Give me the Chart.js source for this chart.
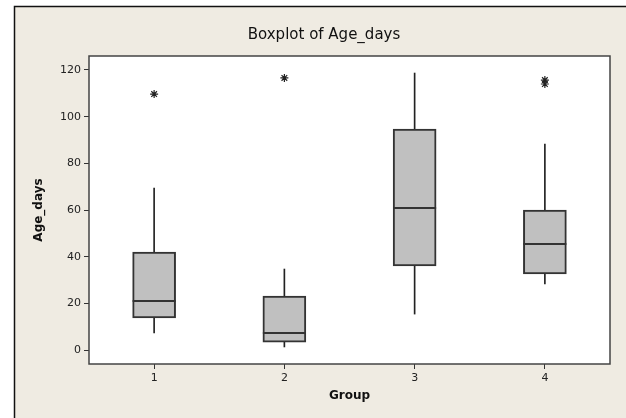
<!DOCTYPE html>
<html>
<head>
<meta charset="utf-8">
<script src="https://cdn.jsdelivr.net/npm/chart.js@4/dist/chart.umd.min.js"></script>
<style>
html,body{margin:0;padding:0;background:#ffffff;}
canvas{display:block;}
</style>
</head>
<body>
<canvas id="c" width="626" height="418"></canvas>
<script>
const groups = ['1', '2', '3', '4'];
const whiskerLow = [7.3, 1.3, 15.4, 28.3];
const q1 = [13.7, 3.4, 36.0, 32.6];
const median = [21.0, 7.3, 60.9, 45.4];
const q3 = [42.0, 23.1, 94.7, 60.0];
const whiskerHigh = [69.4, 34.7, 118.7, 88.3];
const outlierGroups = ['1', '2', '4', '4'];
const outlierValues = [109.7, 116.6, 115.7, 114.0];
const yTicks = [0, 20, 40, 60, 80, 100, 120];
const titleText = 'Boxplot of Age_days';
const xTitle = 'Group';
const yTitle = 'Age_days';

const BG = '#efebe2';
const DARK = '#222222';

const framePlugin = {
  id: 'frame',
  beforeDraw(chart) {
    const ctx = chart.ctx;
    const a = chart.chartArea;
    ctx.save();
    ctx.fillStyle = BG;
    ctx.fillRect(14, 6, chart.width - 14, chart.height - 6);
    ctx.strokeStyle = '#111111';
    ctx.lineWidth = 1.5;
    ctx.beginPath();
    ctx.moveTo(14.5, chart.height);
    ctx.lineTo(14.5, 6.5);
    ctx.lineTo(chart.width, 6.5);
    ctx.stroke();
    ctx.fillStyle = '#ffffff';
    ctx.fillRect(a.left, a.top, a.right - a.left, a.bottom - a.top);
    ctx.fillStyle = '#111111';
    ctx.font = '15px "DejaVu Sans", sans-serif';
    ctx.textAlign = 'center';
    ctx.textBaseline = 'middle';
    ctx.fillText(titleText, 324, 35);
    ctx.restore();
  },
  afterDatasetsDraw(chart) {
    const ctx = chart.ctx;
    const y = chart.scales.y;
    const meta = chart.getDatasetMeta(1);
    ctx.save();
    ctx.strokeStyle = '#333333';
    ctx.lineWidth = 2;
    meta.data.forEach((bar, i) => {
      const py = Math.round(y.getPixelForValue(median[i]));
      ctx.beginPath();
      ctx.moveTo(bar.x - bar.width / 2, py);
      ctx.lineTo(bar.x + bar.width / 2, py);
      ctx.stroke();
    });
    const a = chart.chartArea;
    ctx.strokeStyle = '#444444';
    ctx.lineWidth = 1.5;
    ctx.strokeRect(a.left, a.top, a.right - a.left, a.bottom - a.top);
    ctx.restore();
  }
};

new Chart(document.getElementById('c'), {
  type: 'bar',
  data: {
    labels: groups,
    datasets: [
      {
        label: 'whisker',
        data: groups.map((g, i) => [whiskerLow[i], whiskerHigh[i]]),
        backgroundColor: DARK,
        borderWidth: 0,
        barThickness: 1,
        grouped: false,
        order: 3
      },
      {
        label: 'box',
        data: groups.map((g, i) => [q1[i], q3[i]]),
        backgroundColor: '#c0c0c0',
        borderColor: '#333333',
        borderWidth: 2,
        borderSkipped: false,
        barThickness: 43,
        grouped: false,
        order: 2
      },
      {
        type: 'line',
        label: 'outliers',
        data: outlierGroups.map((g, i) => ({ x: g, y: outlierValues[i] })),
        showLine: false,
        pointStyle: 'star',
        pointRadius: 4,
        pointBorderWidth: 1.2,
        pointBorderColor: DARK,
        pointBackgroundColor: DARK,
        order: 1
      }
    ]
  },
  options: {
    responsive: false,
    animation: false,
    devicePixelRatio: 1,
    layout: { padding: { top: 56, right: 16, left: 0, bottom: 0 } },
    plugins: { legend: { display: false }, tooltip: { enabled: false }, title: { display: false } },
    scales: {
      x: {
        type: 'category',
        offset: true,
        grid: { display: true, offset: false, drawOnChartArea: false, drawTicks: true, tickLength: 5, tickColor: '#333333' },
        border: { display: false },
        ticks: { color: '#222222', font: { family: '"DejaVu Sans", sans-serif', size: 11 }, padding: 3, maxRotation: 0 },
        title: { display: true, text: xTitle, color: '#111111', font: { family: '"DejaVu Sans", sans-serif', size: 12, weight: 'bold' }, padding: { top: 0, bottom: 15 } },
        afterFit(s) { s.height = 54; }
      },
      y: {
        type: 'linear',
        min: -6,
        max: 126,
        afterBuildTicks(s) { s.ticks = yTicks.map(v => ({ value: v })); },
        grid: { display: true, drawOnChartArea: false, drawTicks: true, tickLength: 5, tickColor: '#333333' },
        border: { display: false },
        ticks: { color: '#222222', font: { family: '"DejaVu Sans", sans-serif', size: 11 }, padding: 3 },
        title: { display: true, text: yTitle, color: '#111111', font: { family: '"DejaVu Sans", sans-serif', size: 12, weight: 'bold' }, padding: { top: 32, bottom: 0 } },
        afterFit(s) { s.width = 89; }
      }
    }
  },
  plugins: [framePlugin]
});
</script>
</body>
</html>
